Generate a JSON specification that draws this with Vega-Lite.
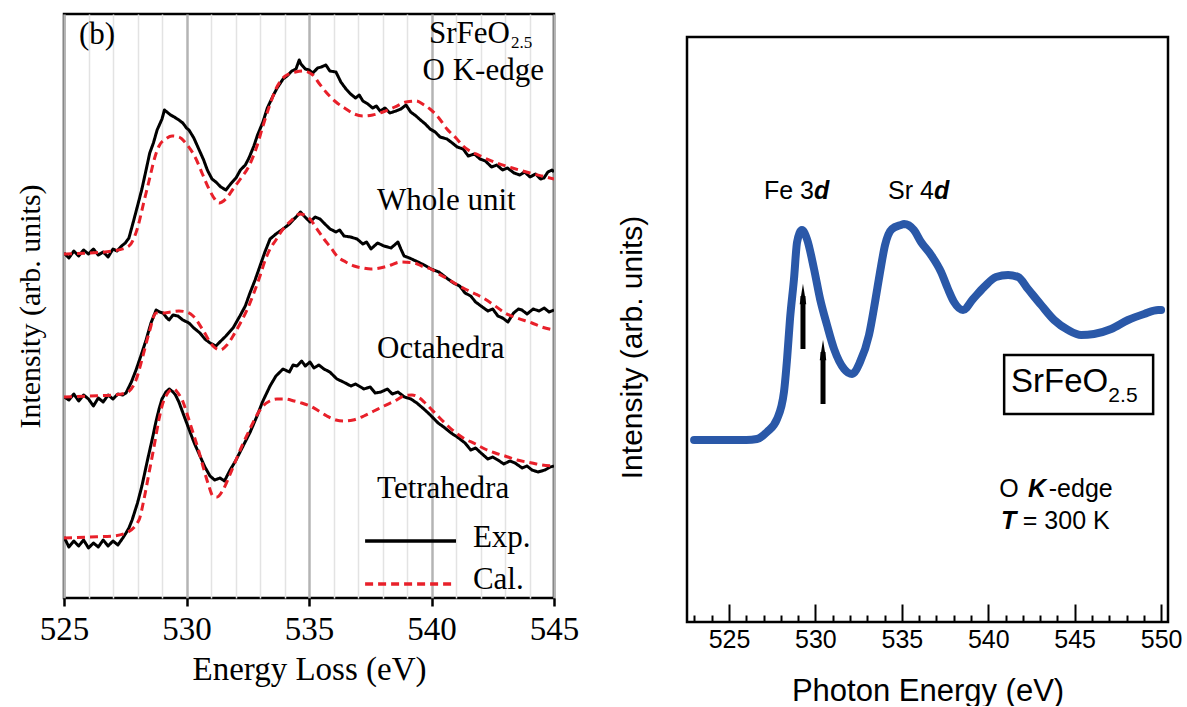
{
  "$schema": "https://vega.github.io/schema/vega-lite/v6.json",
  "background": "white",
  "padding": {"left": 13, "top": 12, "right": 0, "bottom": 0},
  "spacing": 37,
  "config": {
    "view": {"stroke": "#000000", "strokeWidth": 2.5},
    "axis": {"labelColor": "#000000", "titleColor": "#000000", "titleFontWeight": "normal"}
  },
  "datasets": {
    "left": [
      {"curve":"Whole unit","type":"Exp.","energy":525.0,"intensity":345},{"curve":"Whole unit","type":"Exp.","energy":525.2,"intensity":340},{"curve":"Whole unit","type":"Exp.","energy":525.4,"intensity":347},{"curve":"Whole unit","type":"Exp.","energy":525.6,"intensity":342},{"curve":"Whole unit","type":"Exp.","energy":525.8,"intensity":348},{"curve":"Whole unit","type":"Exp.","energy":526.0,"intensity":344},{"curve":"Whole unit","type":"Exp.","energy":526.2,"intensity":349},{"curve":"Whole unit","type":"Exp.","energy":526.4,"intensity":343},{"curve":"Whole unit","type":"Exp.","energy":526.6,"intensity":346},{"curve":"Whole unit","type":"Exp.","energy":526.8,"intensity":341},{"curve":"Whole unit","type":"Exp.","energy":527.0,"intensity":349},{"curve":"Whole unit","type":"Exp.","energy":527.16,"intensity":347},{"curve":"Whole unit","type":"Exp.","energy":527.35,"intensity":352},{"curve":"Whole unit","type":"Exp.","energy":527.5,"intensity":355},{"curve":"Whole unit","type":"Exp.","energy":527.65,"intensity":360},{"curve":"Whole unit","type":"Exp.","energy":527.85,"intensity":378},{"curve":"Whole unit","type":"Exp.","energy":528.0,"intensity":392},{"curve":"Whole unit","type":"Exp.","energy":528.18,"intensity":409},{"curve":"Whole unit","type":"Exp.","energy":528.35,"intensity":428},{"curve":"Whole unit","type":"Exp.","energy":528.5,"intensity":445},{"curve":"Whole unit","type":"Exp.","energy":528.65,"intensity":455},{"curve":"Whole unit","type":"Exp.","energy":528.8,"intensity":468},{"curve":"Whole unit","type":"Exp.","energy":529.0,"intensity":479},{"curve":"Whole unit","type":"Exp.","energy":529.1,"intensity":488},{"curve":"Whole unit","type":"Exp.","energy":529.2,"intensity":486},{"curve":"Whole unit","type":"Exp.","energy":529.35,"intensity":483},{"curve":"Whole unit","type":"Exp.","energy":529.5,"intensity":481},{"curve":"Whole unit","type":"Exp.","energy":529.69,"intensity":478},{"curve":"Whole unit","type":"Exp.","energy":529.85,"intensity":475},{"curve":"Whole unit","type":"Exp.","energy":530.0,"intensity":470},{"curve":"Whole unit","type":"Exp.","energy":530.1,"intensity":468},{"curve":"Whole unit","type":"Exp.","energy":530.3,"intensity":460},{"curve":"Whole unit","type":"Exp.","energy":530.5,"intensity":449},{"curve":"Whole unit","type":"Exp.","energy":530.7,"intensity":438},{"curve":"Whole unit","type":"Exp.","energy":530.85,"intensity":428},{"curve":"Whole unit","type":"Exp.","energy":531.04,"intensity":419},{"curve":"Whole unit","type":"Exp.","energy":531.2,"intensity":416},{"curve":"Whole unit","type":"Exp.","energy":531.4,"intensity":411},{"curve":"Whole unit","type":"Exp.","energy":531.61,"intensity":408},{"curve":"Whole unit","type":"Exp.","energy":531.8,"intensity":414},{"curve":"Whole unit","type":"Exp.","energy":532.02,"intensity":420},{"curve":"Whole unit","type":"Exp.","energy":532.2,"intensity":428},{"curve":"Whole unit","type":"Exp.","energy":532.4,"intensity":433},{"curve":"Whole unit","type":"Exp.","energy":532.55,"intensity":440},{"curve":"Whole unit","type":"Exp.","energy":532.75,"intensity":452},{"curve":"Whole unit","type":"Exp.","energy":532.9,"intensity":463},{"curve":"Whole unit","type":"Exp.","energy":533.12,"intensity":476},{"curve":"Whole unit","type":"Exp.","energy":533.3,"intensity":490},{"curve":"Whole unit","type":"Exp.","energy":533.53,"intensity":502},{"curve":"Whole unit","type":"Exp.","energy":533.7,"intensity":510},{"curve":"Whole unit","type":"Exp.","energy":533.94,"intensity":519},{"curve":"Whole unit","type":"Exp.","energy":534.1,"intensity":522},{"curve":"Whole unit","type":"Exp.","energy":534.3,"intensity":527},{"curve":"Whole unit","type":"Exp.","energy":534.47,"intensity":529},{"curve":"Whole unit","type":"Exp.","energy":534.6,"intensity":538},{"curve":"Whole unit","type":"Exp.","energy":534.67,"intensity":534},{"curve":"Whole unit","type":"Exp.","energy":534.85,"intensity":529},{"curve":"Whole unit","type":"Exp.","energy":535.0,"intensity":528},{"curve":"Whole unit","type":"Exp.","energy":535.16,"intensity":525},{"curve":"Whole unit","type":"Exp.","energy":535.35,"intensity":530},{"curve":"Whole unit","type":"Exp.","energy":535.5,"intensity":531},{"curve":"Whole unit","type":"Exp.","energy":535.69,"intensity":533},{"curve":"Whole unit","type":"Exp.","energy":535.85,"intensity":527},{"curve":"Whole unit","type":"Exp.","energy":536.1,"intensity":526},{"curve":"Whole unit","type":"Exp.","energy":536.3,"intensity":516},{"curve":"Whole unit","type":"Exp.","energy":536.51,"intensity":509},{"curve":"Whole unit","type":"Exp.","energy":536.7,"intensity":504},{"curve":"Whole unit","type":"Exp.","energy":536.9,"intensity":500},{"curve":"Whole unit","type":"Exp.","energy":537.05,"intensity":503},{"curve":"Whole unit","type":"Exp.","energy":537.2,"intensity":497},{"curve":"Whole unit","type":"Exp.","energy":537.4,"intensity":494},{"curve":"Whole unit","type":"Exp.","energy":537.6,"intensity":490},{"curve":"Whole unit","type":"Exp.","energy":537.75,"intensity":492},{"curve":"Whole unit","type":"Exp.","energy":537.9,"intensity":487},{"curve":"Whole unit","type":"Exp.","energy":538.1,"intensity":490},{"curve":"Whole unit","type":"Exp.","energy":538.3,"intensity":485},{"curve":"Whole unit","type":"Exp.","energy":538.55,"intensity":487},{"curve":"Whole unit","type":"Exp.","energy":538.75,"intensity":489},{"curve":"Whole unit","type":"Exp.","energy":538.96,"intensity":493},{"curve":"Whole unit","type":"Exp.","energy":539.15,"intensity":486},{"curve":"Whole unit","type":"Exp.","energy":539.37,"intensity":482},{"curve":"Whole unit","type":"Exp.","energy":539.55,"intensity":478},{"curve":"Whole unit","type":"Exp.","energy":539.75,"intensity":474},{"curve":"Whole unit","type":"Exp.","energy":539.94,"intensity":469},{"curve":"Whole unit","type":"Exp.","energy":540.15,"intensity":466},{"curve":"Whole unit","type":"Exp.","energy":540.35,"intensity":461},{"curve":"Whole unit","type":"Exp.","energy":540.63,"intensity":459},{"curve":"Whole unit","type":"Exp.","energy":540.85,"intensity":455},{"curve":"Whole unit","type":"Exp.","energy":541.05,"intensity":451},{"curve":"Whole unit","type":"Exp.","energy":541.29,"intensity":449},{"curve":"Whole unit","type":"Exp.","energy":541.5,"intensity":442},{"curve":"Whole unit","type":"Exp.","energy":541.75,"intensity":444},{"curve":"Whole unit","type":"Exp.","energy":541.98,"intensity":439},{"curve":"Whole unit","type":"Exp.","energy":542.2,"intensity":437},{"curve":"Whole unit","type":"Exp.","energy":542.45,"intensity":431},{"curve":"Whole unit","type":"Exp.","energy":542.67,"intensity":433},{"curve":"Whole unit","type":"Exp.","energy":542.9,"intensity":428},{"curve":"Whole unit","type":"Exp.","energy":543.1,"intensity":430},{"curve":"Whole unit","type":"Exp.","energy":543.37,"intensity":425},{"curve":"Whole unit","type":"Exp.","energy":543.6,"intensity":423},{"curve":"Whole unit","type":"Exp.","energy":543.8,"intensity":426},{"curve":"Whole unit","type":"Exp.","energy":544.02,"intensity":421},{"curve":"Whole unit","type":"Exp.","energy":544.25,"intensity":424},{"curve":"Whole unit","type":"Exp.","energy":544.45,"intensity":419},{"curve":"Whole unit","type":"Exp.","energy":544.59,"intensity":420},{"curve":"Whole unit","type":"Exp.","energy":544.75,"intensity":426},{"curve":"Whole unit","type":"Exp.","energy":544.92,"intensity":428},{"curve":"Whole unit","type":"Exp.","energy":545.0,"intensity":426},

      {"curve":"Octahedra","type":"Exp.","energy":525.0,"intensity":201},{"curve":"Octahedra","type":"Exp.","energy":525.2,"intensity":198},{"curve":"Octahedra","type":"Exp.","energy":525.4,"intensity":204},{"curve":"Octahedra","type":"Exp.","energy":525.6,"intensity":197},{"curve":"Octahedra","type":"Exp.","energy":525.8,"intensity":203},{"curve":"Octahedra","type":"Exp.","energy":526.0,"intensity":199},{"curve":"Octahedra","type":"Exp.","energy":526.2,"intensity":192},{"curve":"Octahedra","type":"Exp.","energy":526.4,"intensity":200},{"curve":"Octahedra","type":"Exp.","energy":526.6,"intensity":196},{"curve":"Octahedra","type":"Exp.","energy":526.8,"intensity":203},{"curve":"Octahedra","type":"Exp.","energy":527.0,"intensity":199},{"curve":"Octahedra","type":"Exp.","energy":527.2,"intensity":204},{"curve":"Octahedra","type":"Exp.","energy":527.4,"intensity":203},{"curve":"Octahedra","type":"Exp.","energy":527.53,"intensity":205},{"curve":"Octahedra","type":"Exp.","energy":527.75,"intensity":216},{"curve":"Octahedra","type":"Exp.","energy":527.94,"intensity":228},{"curve":"Octahedra","type":"Exp.","energy":528.15,"intensity":243},{"curve":"Octahedra","type":"Exp.","energy":528.35,"intensity":258},{"curve":"Octahedra","type":"Exp.","energy":528.55,"intensity":275},{"curve":"Octahedra","type":"Exp.","energy":528.76,"intensity":288},{"curve":"Octahedra","type":"Exp.","energy":528.9,"intensity":286},{"curve":"Octahedra","type":"Exp.","energy":529.04,"intensity":285},{"curve":"Octahedra","type":"Exp.","energy":529.2,"intensity":280},{"curve":"Octahedra","type":"Exp.","energy":529.29,"intensity":278},{"curve":"Octahedra","type":"Exp.","energy":529.45,"intensity":283},{"curve":"Octahedra","type":"Exp.","energy":529.65,"intensity":282},{"curve":"Octahedra","type":"Exp.","energy":529.85,"intensity":278},{"curve":"Octahedra","type":"Exp.","energy":530.1,"intensity":275},{"curve":"Octahedra","type":"Exp.","energy":530.3,"intensity":270},{"curve":"Octahedra","type":"Exp.","energy":530.55,"intensity":265},{"curve":"Octahedra","type":"Exp.","energy":530.75,"intensity":259},{"curve":"Octahedra","type":"Exp.","energy":530.96,"intensity":255},{"curve":"Octahedra","type":"Exp.","energy":531.2,"intensity":252},{"curve":"Octahedra","type":"Exp.","energy":531.4,"intensity":257},{"curve":"Octahedra","type":"Exp.","energy":531.61,"intensity":262},{"curve":"Octahedra","type":"Exp.","energy":531.9,"intensity":270},{"curve":"Octahedra","type":"Exp.","energy":532.18,"intensity":282},{"curve":"Octahedra","type":"Exp.","energy":532.4,"intensity":292},{"curve":"Octahedra","type":"Exp.","energy":532.59,"intensity":305},{"curve":"Octahedra","type":"Exp.","energy":532.8,"intensity":318},{"curve":"Octahedra","type":"Exp.","energy":533.0,"intensity":332},{"curve":"Octahedra","type":"Exp.","energy":533.2,"intensity":346},{"curve":"Octahedra","type":"Exp.","energy":533.41,"intensity":359},{"curve":"Octahedra","type":"Exp.","energy":533.65,"intensity":364},{"curve":"Octahedra","type":"Exp.","energy":533.94,"intensity":369},{"curve":"Octahedra","type":"Exp.","energy":534.2,"intensity":374},{"curve":"Octahedra","type":"Exp.","energy":534.51,"intensity":382},{"curve":"Octahedra","type":"Exp.","energy":534.65,"intensity":386},{"curve":"Octahedra","type":"Exp.","energy":534.8,"intensity":382},{"curve":"Octahedra","type":"Exp.","energy":535.04,"intensity":376},{"curve":"Octahedra","type":"Exp.","energy":535.25,"intensity":381},{"curve":"Octahedra","type":"Exp.","energy":535.45,"intensity":379},{"curve":"Octahedra","type":"Exp.","energy":535.65,"intensity":374},{"curve":"Octahedra","type":"Exp.","energy":535.86,"intensity":369},{"curve":"Octahedra","type":"Exp.","energy":536.1,"intensity":366},{"curve":"Octahedra","type":"Exp.","energy":536.25,"intensity":368},{"curve":"Octahedra","type":"Exp.","energy":536.43,"intensity":362},{"curve":"Octahedra","type":"Exp.","energy":536.7,"intensity":361},{"curve":"Octahedra","type":"Exp.","energy":536.96,"intensity":359},{"curve":"Octahedra","type":"Exp.","energy":537.2,"intensity":354},{"curve":"Octahedra","type":"Exp.","energy":537.35,"intensity":356},{"curve":"Octahedra","type":"Exp.","energy":537.53,"intensity":349},{"curve":"Octahedra","type":"Exp.","energy":537.8,"intensity":355},{"curve":"Octahedra","type":"Exp.","energy":538.06,"intensity":352},{"curve":"Octahedra","type":"Exp.","energy":538.35,"intensity":350},{"curve":"Octahedra","type":"Exp.","energy":538.63,"intensity":356},{"curve":"Octahedra","type":"Exp.","energy":538.75,"intensity":349},{"curve":"Octahedra","type":"Exp.","energy":538.88,"intensity":342},{"curve":"Octahedra","type":"Exp.","energy":539.1,"intensity":340},{"curve":"Octahedra","type":"Exp.","energy":539.45,"intensity":336},{"curve":"Octahedra","type":"Exp.","energy":539.7,"intensity":333},{"curve":"Octahedra","type":"Exp.","energy":539.98,"intensity":329},{"curve":"Octahedra","type":"Exp.","energy":540.3,"intensity":326},{"curve":"Octahedra","type":"Exp.","energy":540.67,"intensity":319},{"curve":"Octahedra","type":"Exp.","energy":540.9,"intensity":315},{"curve":"Octahedra","type":"Exp.","energy":541.15,"intensity":312},{"curve":"Octahedra","type":"Exp.","energy":541.37,"intensity":305},{"curve":"Octahedra","type":"Exp.","energy":541.6,"intensity":302},{"curve":"Octahedra","type":"Exp.","energy":541.8,"intensity":296},{"curve":"Octahedra","type":"Exp.","energy":542.02,"intensity":292},{"curve":"Octahedra","type":"Exp.","energy":542.3,"intensity":287},{"curve":"Octahedra","type":"Exp.","energy":542.5,"intensity":289},{"curve":"Octahedra","type":"Exp.","energy":542.71,"intensity":282},{"curve":"Octahedra","type":"Exp.","energy":542.9,"intensity":280},{"curve":"Octahedra","type":"Exp.","energy":543.12,"intensity":276},{"curve":"Octahedra","type":"Exp.","energy":543.35,"intensity":285},{"curve":"Octahedra","type":"Exp.","energy":543.55,"intensity":289},{"curve":"Octahedra","type":"Exp.","energy":543.69,"intensity":288},{"curve":"Octahedra","type":"Exp.","energy":543.9,"intensity":284},{"curve":"Octahedra","type":"Exp.","energy":544.15,"intensity":289},{"curve":"Octahedra","type":"Exp.","energy":544.39,"intensity":287},{"curve":"Octahedra","type":"Exp.","energy":544.6,"intensity":290},{"curve":"Octahedra","type":"Exp.","energy":544.8,"intensity":286},{"curve":"Octahedra","type":"Exp.","energy":545.0,"intensity":288},

      {"curve":"Tetrahedra","type":"Exp.","energy":525.0,"intensity":61},{"curve":"Tetrahedra","type":"Exp.","energy":525.2,"intensity":51},{"curve":"Tetrahedra","type":"Exp.","energy":525.4,"intensity":57},{"curve":"Tetrahedra","type":"Exp.","energy":525.6,"intensity":52},{"curve":"Tetrahedra","type":"Exp.","energy":525.8,"intensity":58},{"curve":"Tetrahedra","type":"Exp.","energy":526.0,"intensity":50},{"curve":"Tetrahedra","type":"Exp.","energy":526.2,"intensity":55},{"curve":"Tetrahedra","type":"Exp.","energy":526.4,"intensity":51},{"curve":"Tetrahedra","type":"Exp.","energy":526.6,"intensity":58},{"curve":"Tetrahedra","type":"Exp.","energy":526.8,"intensity":52},{"curve":"Tetrahedra","type":"Exp.","energy":527.0,"intensity":57},{"curve":"Tetrahedra","type":"Exp.","energy":527.2,"intensity":53},{"curve":"Tetrahedra","type":"Exp.","energy":527.4,"intensity":60},{"curve":"Tetrahedra","type":"Exp.","energy":527.53,"intensity":65},{"curve":"Tetrahedra","type":"Exp.","energy":527.65,"intensity":70},{"curve":"Tetrahedra","type":"Exp.","energy":527.78,"intensity":78},{"curve":"Tetrahedra","type":"Exp.","energy":528.0,"intensity":95},{"curve":"Tetrahedra","type":"Exp.","energy":528.18,"intensity":112},{"curve":"Tetrahedra","type":"Exp.","energy":528.4,"intensity":137},{"curve":"Tetrahedra","type":"Exp.","energy":528.63,"intensity":162},{"curve":"Tetrahedra","type":"Exp.","energy":528.75,"intensity":176},{"curve":"Tetrahedra","type":"Exp.","energy":528.88,"intensity":189},{"curve":"Tetrahedra","type":"Exp.","energy":529.0,"intensity":199},{"curve":"Tetrahedra","type":"Exp.","energy":529.16,"intensity":206},{"curve":"Tetrahedra","type":"Exp.","energy":529.3,"intensity":209},{"curve":"Tetrahedra","type":"Exp.","energy":529.45,"intensity":206},{"curve":"Tetrahedra","type":"Exp.","energy":529.55,"intensity":203},{"curve":"Tetrahedra","type":"Exp.","energy":529.69,"intensity":196},{"curve":"Tetrahedra","type":"Exp.","energy":529.9,"intensity":182},{"curve":"Tetrahedra","type":"Exp.","energy":530.1,"intensity":169},{"curve":"Tetrahedra","type":"Exp.","energy":530.3,"intensity":156},{"curve":"Tetrahedra","type":"Exp.","energy":530.55,"intensity":142},{"curve":"Tetrahedra","type":"Exp.","energy":530.75,"intensity":131},{"curve":"Tetrahedra","type":"Exp.","energy":530.96,"intensity":122},{"curve":"Tetrahedra","type":"Exp.","energy":531.15,"intensity":118},{"curve":"Tetrahedra","type":"Exp.","energy":531.37,"intensity":120},{"curve":"Tetrahedra","type":"Exp.","energy":531.55,"intensity":117},{"curve":"Tetrahedra","type":"Exp.","energy":531.78,"intensity":128},{"curve":"Tetrahedra","type":"Exp.","energy":532.0,"intensity":137},{"curve":"Tetrahedra","type":"Exp.","energy":532.31,"intensity":152},{"curve":"Tetrahedra","type":"Exp.","energy":532.6,"intensity":166},{"curve":"Tetrahedra","type":"Exp.","energy":532.88,"intensity":182},{"curve":"Tetrahedra","type":"Exp.","energy":533.1,"intensity":196},{"curve":"Tetrahedra","type":"Exp.","energy":533.41,"intensity":212},{"curve":"Tetrahedra","type":"Exp.","energy":533.65,"intensity":222},{"curve":"Tetrahedra","type":"Exp.","energy":533.94,"intensity":229},{"curve":"Tetrahedra","type":"Exp.","energy":534.2,"intensity":226},{"curve":"Tetrahedra","type":"Exp.","energy":534.35,"intensity":233},{"curve":"Tetrahedra","type":"Exp.","energy":534.51,"intensity":232},{"curve":"Tetrahedra","type":"Exp.","energy":534.7,"intensity":237},{"curve":"Tetrahedra","type":"Exp.","energy":534.85,"intensity":232},{"curve":"Tetrahedra","type":"Exp.","energy":535.04,"intensity":236},{"curve":"Tetrahedra","type":"Exp.","energy":535.2,"intensity":230},{"curve":"Tetrahedra","type":"Exp.","energy":535.4,"intensity":233},{"curve":"Tetrahedra","type":"Exp.","energy":535.61,"intensity":229},{"curve":"Tetrahedra","type":"Exp.","energy":535.85,"intensity":226},{"curve":"Tetrahedra","type":"Exp.","energy":536.14,"intensity":219},{"curve":"Tetrahedra","type":"Exp.","energy":536.4,"intensity":216},{"curve":"Tetrahedra","type":"Exp.","energy":536.71,"intensity":212},{"curve":"Tetrahedra","type":"Exp.","energy":536.9,"intensity":214},{"curve":"Tetrahedra","type":"Exp.","energy":537.24,"intensity":209},{"curve":"Tetrahedra","type":"Exp.","energy":537.5,"intensity":211},{"curve":"Tetrahedra","type":"Exp.","energy":537.7,"intensity":205},{"curve":"Tetrahedra","type":"Exp.","energy":537.94,"intensity":206},{"curve":"Tetrahedra","type":"Exp.","energy":538.2,"intensity":209},{"curve":"Tetrahedra","type":"Exp.","energy":538.4,"intensity":204},{"curve":"Tetrahedra","type":"Exp.","energy":538.63,"intensity":206},{"curve":"Tetrahedra","type":"Exp.","energy":538.9,"intensity":201},{"curve":"Tetrahedra","type":"Exp.","energy":539.16,"intensity":199},{"curve":"Tetrahedra","type":"Exp.","energy":539.4,"intensity":195},{"curve":"Tetrahedra","type":"Exp.","energy":539.69,"intensity":189},{"curve":"Tetrahedra","type":"Exp.","energy":539.95,"intensity":183},{"curve":"Tetrahedra","type":"Exp.","energy":540.27,"intensity":175},{"curve":"Tetrahedra","type":"Exp.","energy":540.5,"intensity":171},{"curve":"Tetrahedra","type":"Exp.","energy":540.8,"intensity":165},{"curve":"Tetrahedra","type":"Exp.","energy":541.05,"intensity":161},{"curve":"Tetrahedra","type":"Exp.","energy":541.37,"intensity":155},{"curve":"Tetrahedra","type":"Exp.","energy":541.6,"intensity":148},{"curve":"Tetrahedra","type":"Exp.","energy":541.8,"intensity":150},{"curve":"Tetrahedra","type":"Exp.","energy":542.02,"intensity":145},{"curve":"Tetrahedra","type":"Exp.","energy":542.3,"intensity":139},{"curve":"Tetrahedra","type":"Exp.","energy":542.5,"intensity":141},{"curve":"Tetrahedra","type":"Exp.","energy":542.71,"intensity":138},{"curve":"Tetrahedra","type":"Exp.","energy":542.95,"intensity":134},{"curve":"Tetrahedra","type":"Exp.","energy":543.2,"intensity":137},{"curve":"Tetrahedra","type":"Exp.","energy":543.41,"intensity":135},{"curve":"Tetrahedra","type":"Exp.","energy":543.7,"intensity":130},{"curve":"Tetrahedra","type":"Exp.","energy":543.9,"intensity":132},{"curve":"Tetrahedra","type":"Exp.","energy":544.1,"intensity":128},{"curve":"Tetrahedra","type":"Exp.","energy":544.35,"intensity":126},{"curve":"Tetrahedra","type":"Exp.","energy":544.63,"intensity":128},{"curve":"Tetrahedra","type":"Exp.","energy":544.85,"intensity":131},{"curve":"Tetrahedra","type":"Exp.","energy":545.0,"intensity":132},

      {"curve":"Whole unit","type":"Cal.","energy":525.0,"intensity":344},{"curve":"Whole unit","type":"Cal.","energy":526.0,"intensity":345},{"curve":"Whole unit","type":"Cal.","energy":527.0,"intensity":347},{"curve":"Whole unit","type":"Cal.","energy":527.65,"intensity":352},{"curve":"Whole unit","type":"Cal.","energy":528.0,"intensity":370},{"curve":"Whole unit","type":"Cal.","energy":528.25,"intensity":395},{"curve":"Whole unit","type":"Cal.","energy":528.47,"intensity":417},{"curve":"Whole unit","type":"Cal.","energy":528.7,"intensity":440},{"curve":"Whole unit","type":"Cal.","energy":528.88,"intensity":452},{"curve":"Whole unit","type":"Cal.","energy":529.15,"intensity":459},{"curve":"Whole unit","type":"Cal.","energy":529.41,"intensity":462},{"curve":"Whole unit","type":"Cal.","energy":529.69,"intensity":461},{"curve":"Whole unit","type":"Cal.","energy":530.0,"intensity":454},{"curve":"Whole unit","type":"Cal.","energy":530.39,"intensity":439},{"curve":"Whole unit","type":"Cal.","energy":530.65,"intensity":424},{"curve":"Whole unit","type":"Cal.","energy":530.92,"intensity":409},{"curve":"Whole unit","type":"Cal.","energy":531.15,"intensity":399},{"curve":"Whole unit","type":"Cal.","energy":531.33,"intensity":395},{"curve":"Whole unit","type":"Cal.","energy":531.6,"intensity":399},{"curve":"Whole unit","type":"Cal.","energy":531.9,"intensity":409},{"curve":"Whole unit","type":"Cal.","energy":532.2,"intensity":419},{"curve":"Whole unit","type":"Cal.","energy":532.55,"intensity":432},{"curve":"Whole unit","type":"Cal.","energy":532.85,"intensity":450},{"curve":"Whole unit","type":"Cal.","energy":533.12,"intensity":472},{"curve":"Whole unit","type":"Cal.","energy":533.4,"intensity":493},{"curve":"Whole unit","type":"Cal.","energy":533.65,"intensity":509},{"curve":"Whole unit","type":"Cal.","energy":533.9,"intensity":519},{"curve":"Whole unit","type":"Cal.","energy":534.18,"intensity":524},{"curve":"Whole unit","type":"Cal.","energy":534.45,"intensity":526},{"curve":"Whole unit","type":"Cal.","energy":534.76,"intensity":527},{"curve":"Whole unit","type":"Cal.","energy":535.16,"intensity":523},{"curve":"Whole unit","type":"Cal.","energy":535.4,"intensity":515},{"curve":"Whole unit","type":"Cal.","energy":535.69,"intensity":506},{"curve":"Whole unit","type":"Cal.","energy":536.1,"intensity":496},{"curve":"Whole unit","type":"Cal.","energy":536.51,"intensity":489},{"curve":"Whole unit","type":"Cal.","energy":536.85,"intensity":484},{"curve":"Whole unit","type":"Cal.","energy":537.2,"intensity":482},{"curve":"Whole unit","type":"Cal.","energy":537.6,"intensity":483},{"curve":"Whole unit","type":"Cal.","energy":538.02,"intensity":486},{"curve":"Whole unit","type":"Cal.","energy":538.5,"intensity":491},{"curve":"Whole unit","type":"Cal.","energy":538.96,"intensity":496},{"curve":"Whole unit","type":"Cal.","energy":539.37,"intensity":497},{"curve":"Whole unit","type":"Cal.","energy":539.7,"intensity":493},{"curve":"Whole unit","type":"Cal.","energy":539.94,"intensity":489},{"curve":"Whole unit","type":"Cal.","energy":540.3,"intensity":480},{"curve":"Whole unit","type":"Cal.","energy":540.63,"intensity":469},{"curve":"Whole unit","type":"Cal.","energy":541.0,"intensity":460},{"curve":"Whole unit","type":"Cal.","energy":541.29,"intensity":452},{"curve":"Whole unit","type":"Cal.","energy":542.0,"intensity":442},{"curve":"Whole unit","type":"Cal.","energy":542.67,"intensity":435},{"curve":"Whole unit","type":"Cal.","energy":543.3,"intensity":430},{"curve":"Whole unit","type":"Cal.","energy":544.02,"intensity":425},{"curve":"Whole unit","type":"Cal.","energy":544.5,"intensity":422},{"curve":"Whole unit","type":"Cal.","energy":545.0,"intensity":419},

      {"curve":"Octahedra","type":"Cal.","energy":525.0,"intensity":201},{"curve":"Octahedra","type":"Cal.","energy":526.0,"intensity":202},{"curve":"Octahedra","type":"Cal.","energy":527.0,"intensity":203},{"curve":"Octahedra","type":"Cal.","energy":527.53,"intensity":205},{"curve":"Octahedra","type":"Cal.","energy":527.94,"intensity":218},{"curve":"Octahedra","type":"Cal.","energy":528.2,"intensity":240},{"curve":"Octahedra","type":"Cal.","energy":528.47,"intensity":265},{"curve":"Octahedra","type":"Cal.","energy":528.76,"intensity":285},{"curve":"Octahedra","type":"Cal.","energy":529.0,"intensity":285},{"curve":"Octahedra","type":"Cal.","energy":529.35,"intensity":286},{"curve":"Octahedra","type":"Cal.","energy":529.69,"intensity":287},{"curve":"Octahedra","type":"Cal.","energy":530.0,"intensity":286},{"curve":"Octahedra","type":"Cal.","energy":530.27,"intensity":282},{"curve":"Octahedra","type":"Cal.","energy":530.67,"intensity":268},{"curve":"Octahedra","type":"Cal.","energy":531.08,"intensity":252},{"curve":"Octahedra","type":"Cal.","energy":531.37,"intensity":248},{"curve":"Octahedra","type":"Cal.","energy":531.65,"intensity":253},{"curve":"Octahedra","type":"Cal.","energy":531.9,"intensity":262},{"curve":"Octahedra","type":"Cal.","energy":532.2,"intensity":275},{"curve":"Octahedra","type":"Cal.","energy":532.47,"intensity":288},{"curve":"Octahedra","type":"Cal.","energy":532.75,"intensity":305},{"curve":"Octahedra","type":"Cal.","energy":533.0,"intensity":322},{"curve":"Octahedra","type":"Cal.","energy":533.2,"intensity":337},{"curve":"Octahedra","type":"Cal.","energy":533.41,"intensity":349},{"curve":"Octahedra","type":"Cal.","energy":533.65,"intensity":358},{"curve":"Octahedra","type":"Cal.","energy":533.94,"intensity":369},{"curve":"Octahedra","type":"Cal.","energy":534.3,"intensity":378},{"curve":"Octahedra","type":"Cal.","energy":534.63,"intensity":384},{"curve":"Octahedra","type":"Cal.","energy":535.04,"intensity":379},{"curve":"Octahedra","type":"Cal.","energy":535.3,"intensity":370},{"curve":"Octahedra","type":"Cal.","energy":535.61,"intensity":359},{"curve":"Octahedra","type":"Cal.","energy":535.9,"intensity":350},{"curve":"Octahedra","type":"Cal.","energy":536.14,"intensity":342},{"curve":"Octahedra","type":"Cal.","energy":536.5,"intensity":336},{"curve":"Octahedra","type":"Cal.","energy":536.84,"intensity":332},{"curve":"Octahedra","type":"Cal.","energy":537.2,"intensity":330},{"curve":"Octahedra","type":"Cal.","energy":537.53,"intensity":329},{"curve":"Octahedra","type":"Cal.","energy":537.9,"intensity":330},{"curve":"Octahedra","type":"Cal.","energy":538.22,"intensity":332},{"curve":"Octahedra","type":"Cal.","energy":538.76,"intensity":336},{"curve":"Octahedra","type":"Cal.","energy":539.29,"intensity":335},{"curve":"Octahedra","type":"Cal.","energy":539.6,"intensity":332},{"curve":"Octahedra","type":"Cal.","energy":539.98,"intensity":329},{"curve":"Octahedra","type":"Cal.","energy":540.3,"intensity":324},{"curve":"Octahedra","type":"Cal.","energy":540.67,"intensity":319},{"curve":"Octahedra","type":"Cal.","energy":541.0,"intensity":314},{"curve":"Octahedra","type":"Cal.","energy":541.37,"intensity":309},{"curve":"Octahedra","type":"Cal.","energy":541.8,"intensity":304},{"curve":"Octahedra","type":"Cal.","energy":542.18,"intensity":299},{"curve":"Octahedra","type":"Cal.","energy":542.6,"intensity":292},{"curve":"Octahedra","type":"Cal.","energy":543.0,"intensity":285},{"curve":"Octahedra","type":"Cal.","energy":543.5,"intensity":280},{"curve":"Octahedra","type":"Cal.","energy":544.1,"intensity":275},{"curve":"Octahedra","type":"Cal.","energy":544.5,"intensity":271},{"curve":"Octahedra","type":"Cal.","energy":545.0,"intensity":268},

      {"curve":"Tetrahedra","type":"Cal.","energy":525.0,"intensity":60},{"curve":"Tetrahedra","type":"Cal.","energy":526.0,"intensity":61},{"curve":"Tetrahedra","type":"Cal.","energy":527.0,"intensity":62},{"curve":"Tetrahedra","type":"Cal.","energy":527.53,"intensity":65},{"curve":"Tetrahedra","type":"Cal.","energy":528.06,"intensity":78},{"curve":"Tetrahedra","type":"Cal.","energy":528.25,"intensity":97},{"curve":"Tetrahedra","type":"Cal.","energy":528.47,"intensity":125},{"curve":"Tetrahedra","type":"Cal.","energy":528.68,"intensity":152},{"curve":"Tetrahedra","type":"Cal.","energy":528.88,"intensity":179},{"curve":"Tetrahedra","type":"Cal.","energy":529.0,"intensity":192},{"curve":"Tetrahedra","type":"Cal.","energy":529.16,"intensity":202},{"curve":"Tetrahedra","type":"Cal.","energy":529.35,"intensity":208},{"curve":"Tetrahedra","type":"Cal.","energy":529.49,"intensity":209},{"curve":"Tetrahedra","type":"Cal.","energy":529.65,"intensity":205},{"curve":"Tetrahedra","type":"Cal.","energy":529.86,"intensity":196},{"curve":"Tetrahedra","type":"Cal.","energy":530.05,"intensity":182},{"curve":"Tetrahedra","type":"Cal.","energy":530.27,"intensity":165},{"curve":"Tetrahedra","type":"Cal.","energy":530.5,"intensity":147},{"curve":"Tetrahedra","type":"Cal.","energy":530.67,"intensity":132},{"curve":"Tetrahedra","type":"Cal.","energy":530.9,"intensity":113},{"curve":"Tetrahedra","type":"Cal.","energy":531.08,"intensity":102},{"curve":"Tetrahedra","type":"Cal.","energy":531.25,"intensity":101},{"curve":"Tetrahedra","type":"Cal.","energy":531.49,"intensity":108},{"curve":"Tetrahedra","type":"Cal.","energy":531.75,"intensity":122},{"curve":"Tetrahedra","type":"Cal.","energy":532.02,"intensity":138},{"curve":"Tetrahedra","type":"Cal.","energy":532.3,"intensity":154},{"curve":"Tetrahedra","type":"Cal.","energy":532.59,"intensity":169},{"curve":"Tetrahedra","type":"Cal.","energy":532.85,"intensity":182},{"curve":"Tetrahedra","type":"Cal.","energy":533.12,"intensity":192},{"curve":"Tetrahedra","type":"Cal.","energy":533.4,"intensity":197},{"curve":"Tetrahedra","type":"Cal.","energy":533.69,"intensity":199},{"curve":"Tetrahedra","type":"Cal.","energy":534.0,"intensity":199},{"curve":"Tetrahedra","type":"Cal.","energy":534.39,"intensity":197},{"curve":"Tetrahedra","type":"Cal.","energy":534.7,"intensity":195},{"curve":"Tetrahedra","type":"Cal.","energy":535.04,"intensity":192},{"curve":"Tetrahedra","type":"Cal.","energy":535.4,"intensity":187},{"curve":"Tetrahedra","type":"Cal.","energy":535.73,"intensity":182},{"curve":"Tetrahedra","type":"Cal.","energy":536.1,"intensity":178},{"curve":"Tetrahedra","type":"Cal.","energy":536.43,"intensity":177},{"curve":"Tetrahedra","type":"Cal.","energy":536.8,"intensity":178},{"curve":"Tetrahedra","type":"Cal.","energy":537.24,"intensity":182},{"curve":"Tetrahedra","type":"Cal.","energy":537.65,"intensity":187},{"curve":"Tetrahedra","type":"Cal.","energy":538.06,"intensity":192},{"curve":"Tetrahedra","type":"Cal.","energy":538.5,"intensity":197},{"curve":"Tetrahedra","type":"Cal.","energy":538.88,"intensity":202},{"curve":"Tetrahedra","type":"Cal.","energy":539.2,"intensity":203},{"curve":"Tetrahedra","type":"Cal.","energy":539.45,"intensity":201},{"curve":"Tetrahedra","type":"Cal.","energy":539.7,"intensity":196},{"curve":"Tetrahedra","type":"Cal.","energy":539.98,"intensity":189},{"curve":"Tetrahedra","type":"Cal.","energy":540.3,"intensity":181},{"curve":"Tetrahedra","type":"Cal.","energy":540.67,"intensity":172},{"curve":"Tetrahedra","type":"Cal.","energy":541.0,"intensity":165},{"curve":"Tetrahedra","type":"Cal.","energy":541.37,"intensity":159},{"curve":"Tetrahedra","type":"Cal.","energy":541.8,"intensity":154},{"curve":"Tetrahedra","type":"Cal.","energy":542.18,"intensity":149},{"curve":"Tetrahedra","type":"Cal.","energy":542.6,"intensity":145},{"curve":"Tetrahedra","type":"Cal.","energy":543.0,"intensity":142},{"curve":"Tetrahedra","type":"Cal.","energy":543.5,"intensity":138},{"curve":"Tetrahedra","type":"Cal.","energy":544.1,"intensity":135},{"curve":"Tetrahedra","type":"Cal.","energy":544.5,"intensity":133},{"curve":"Tetrahedra","type":"Cal.","energy":545.0,"intensity":132}
    ],
    "right": [
      {"energy":522.98,"intensity":182},{"energy":524.0,"intensity":182},{"energy":525.0,"intensity":182},{"energy":526.0,"intensity":182},{"energy":526.62,"intensity":183},{"energy":527.2,"intensity":190},{"energy":527.78,"intensity":203},{"energy":528.18,"intensity":230},{"energy":528.36,"intensity":263},{"energy":528.53,"intensity":303},{"energy":528.76,"intensity":343},{"energy":528.94,"intensity":380},{"energy":529.22,"intensity":392},{"energy":529.51,"intensity":383},{"energy":529.92,"intensity":353},{"energy":530.27,"intensity":323},{"energy":530.67,"intensity":297},{"energy":531.08,"intensity":273},{"energy":531.66,"intensity":253},{"energy":532.12,"intensity":248},{"energy":532.58,"intensity":260},{"energy":533.1,"intensity":287},{"energy":533.45,"intensity":320},{"energy":533.74,"intensity":350},{"energy":534.03,"intensity":377},{"energy":534.43,"intensity":393},{"energy":534.95,"intensity":397},{"energy":535.13,"intensity":398},{"energy":535.7,"intensity":392},{"energy":536.11,"intensity":380},{"energy":536.69,"intensity":367},{"energy":537.27,"intensity":350},{"energy":537.67,"intensity":333},{"energy":538.02,"intensity":320},{"energy":538.54,"intensity":312},{"energy":539.12,"intensity":323},{"energy":539.76,"intensity":335},{"energy":540.45,"intensity":345},{"energy":541.15,"intensity":347},{"energy":541.73,"intensity":345},{"energy":542.3,"intensity":333},{"energy":543.06,"intensity":317},{"energy":543.81,"intensity":302},{"energy":544.62,"intensity":292},{"energy":545.37,"intensity":287},{"energy":546.12,"intensity":288},{"energy":547.11,"intensity":293},{"energy":548.09,"intensity":302},{"energy":549.02,"intensity":308},{"energy":549.83,"intensity":312},{"energy":550.0,"intensity":312}
    ]
  },
  "hconcat": [
    {
      "width": 490,
      "height": 584,
      "layer": [
        {
          "data": {"name": "left"},
          "transform": [{"filter": "datum.type === 'Exp.'"}],
          "mark": {"type": "line", "clip": true, "strokeWidth": 3, "strokeJoin": "round"},
          "encoding": {
            "x": {"field": "energy", "type": "quantitative",
              "scale": {"domain": [525, 545], "nice": false, "zero": false},
              "axis": {
                "values": [525,526,527,528,529,530,531,532,533,534,535,536,537,538,539,540,541,542,543,544,545],
                "tickCount": 200,
                "format": "d",
                "labelExpr": "datum.value % 5 === 0 ? datum.label : ''",
                "labelOverlap": false, "labelFlush": false,
                "grid": true,
                "gridColor": {"condition": {"test": "datum.value % 5 === 0", "value": "#b4b4b4"}, "value": "#e3e3e3"},
                "gridWidth": {"condition": {"test": "datum.value % 5 === 0", "value": 2.5}, "value": 1.5},
                "tickOpacity": {"condition": {"test": "datum.value % 5 === 0", "value": 1}, "value": 0},
                "tickSize": 8, "tickWidth": 2.5, "tickColor": "#000000",
                "domain": false,
                "labelFont": "Liberation Serif", "labelFontSize": 33, "labelPadding": 7,
                "title": "Energy Loss (eV)", "titleFont": "Liberation Serif", "titleFontSize": 33, "titlePadding": 7
              }},
            "y": {"field": "intensity", "type": "quantitative",
              "scale": {"domain": [0, 584], "nice": false, "zero": false},
              "axis": {"title": "Intensity (arb. units)", "ticks": false, "labels": false, "domain": false, "grid": false,
                "minExtent": 0, "titleFont": "Liberation Serif", "titleFontSize": 30, "titlePadding": 19}},
            "detail": {"field": "curve"},
            "color": {"field": "type", "type": "nominal", "scale": {"domain": ["Exp.", "Cal."], "range": ["#000000", "#e8202a"]}, "legend": null},
            "strokeDash": {"field": "type", "type": "nominal", "scale": {"domain": ["Exp.", "Cal."], "range": [[1, 0], [8, 5]]}, "legend": null}
          }
        },
        {
          "data": {"name": "left"},
          "transform": [{"filter": "datum.type === 'Cal.'"}],
          "mark": {"type": "line", "clip": true, "strokeWidth": 3, "interpolate": "monotone"},
          "encoding": {
            "x": {"field": "energy", "type": "quantitative"},
            "y": {"field": "intensity", "type": "quantitative"},
            "detail": {"field": "curve"},
            "color": {"field": "type", "type": "nominal", "legend": null},
            "strokeDash": {"field": "type", "type": "nominal", "legend": null}
          }
        },
        {
          "data": {"values": [
            {"type": "Exp.", "start": 537.29, "end": 541.0, "level": 57},
            {"type": "Cal.", "start": 537.29, "end": 541.0, "level": 14}
          ]},
          "mark": {"type": "rule", "strokeWidth": 3.5},
          "encoding": {
            "x": {"field": "start", "type": "quantitative"},
            "x2": {"field": "end"},
            "y": {"field": "level", "type": "quantitative"},
            "color": {"field": "type", "type": "nominal", "legend": null},
            "strokeDash": {"field": "type", "type": "nominal", "legend": null}
          }
        },
        {
          "data": {"values": [
            {"label": "(b)", "energy": 525.61, "intensity": 554},
            {"label": "Whole unit", "energy": 537.78, "intensity": 388},
            {"label": "Octahedra", "energy": 537.78, "intensity": 240},
            {"label": "Tetrahedra", "energy": 537.78, "intensity": 100},
            {"label": "Exp.", "energy": 541.69, "intensity": 51},
            {"label": "Cal.", "energy": 541.69, "intensity": 9}
          ]},
          "mark": {"type": "text", "align": "left", "baseline": "alphabetic", "font": "Liberation Serif", "fontSize": 31, "color": "#000000"},
          "encoding": {
            "x": {"field": "energy", "type": "quantitative"},
            "y": {"field": "intensity", "type": "quantitative"},
            "text": {"field": "label"}
          }
        },
        {
          "data": {"values": [
            {"label": "SrFeO", "energy": 543.2, "intensity": 555},
            {"label": "O K-edge", "energy": 544.59, "intensity": 518}
          ]},
          "mark": {"type": "text", "align": "right", "baseline": "alphabetic", "font": "Liberation Serif", "fontSize": 31, "color": "#000000"},
          "encoding": {
            "x": {"field": "energy", "type": "quantitative"},
            "y": {"field": "intensity", "type": "quantitative"},
            "text": {"field": "label"}
          }
        },
        {
          "data": {"values": [{"label": "2.5", "energy": 543.24, "intensity": 550}]},
          "mark": {"type": "text", "align": "left", "baseline": "alphabetic", "font": "Liberation Serif", "fontSize": 17, "color": "#000000"},
          "encoding": {
            "x": {"field": "energy", "type": "quantitative"},
            "y": {"field": "intensity", "type": "quantitative"},
            "text": {"field": "label"}
          }
        }
      ]
    },
    {
      "width": 481,
      "height": 608,
      "view": {"stroke": null},
      "layer": [
        {
          "data": {"values": [{"low": 522.57, "high": 550.4, "bottom": 0, "top": 585}]},
          "mark": {"type": "rect", "fill": "transparent", "stroke": "#000000", "strokeWidth": 2.5},
          "encoding": {
            "x": {"field": "low", "type": "quantitative",
              "scale": {"domain": [522.57, 550.4], "nice": false, "zero": false},
              "axis": {
                "values": [523,524,525,526,527,528,529,530,531,532,533,534,535,536,537,538,539,540,541,542,543,544,545,546,547,548,549,550],
                "tickCount": 200,
                "format": "d",
                "labelExpr": "datum.value % 5 === 0 ? datum.label : ''",
                "labelOverlap": false, "labelFlush": false,
                "grid": false, "domain": false,
                "tickSize": {"condition": {"test": "datum.value % 5 === 0", "value": -18}, "value": -7},
                "tickWidth": 2, "tickColor": "#000000",
                "labelFont": "Liberation Sans", "labelFontSize": 25, "labelPadding": 23,
                "title": "Photon Energy (eV)", "titleFont": "Liberation Sans", "titleFontSize": 31, "titlePadding": 13
              }},
            "x2": {"field": "high"},
            "y": {"field": "bottom", "type": "quantitative",
              "scale": {"domain": [0, 608], "nice": false, "zero": false},
              "axis": {"title": "Intensity (arb. units)", "ticks": false, "labels": false, "domain": false, "grid": false,
                "minExtent": 0, "titleFont": "Liberation Sans", "titleFontSize": 30, "titlePadding": 40, "titleY": 333}},
            "y2": {"field": "top"}
          }
        },
        {
          "data": {"name": "right"},
          "mark": {"type": "line", "clip": true, "color": "#2a58a8", "strokeWidth": 8, "strokeCap": "round", "strokeJoin": "round", "interpolate": "monotone"},
          "encoding": {
            "x": {"field": "energy", "type": "quantitative"},
            "y": {"field": "intensity", "type": "quantitative"}
          }
        },
        {
          "data": {"values": [
            {"energy": 529.28, "base": 273, "tip": 338},
            {"energy": 530.44, "base": 218, "tip": 282}
          ]},
          "layer": [
            {
              "mark": {"type": "rule", "strokeWidth": 5, "color": "#000000", "y2Offset": 12},
              "encoding": {
                "x": {"field": "energy", "type": "quantitative"},
                "y": {"field": "base", "type": "quantitative"},
                "y2": {"field": "tip"}
              }
            },
            {
              "mark": {"type": "point", "shape": "M0,-1L0.32,1L-0.32,1Z", "size": 420, "filled": true, "color": "#000000", "opacity": 1, "yOffset": 10},
              "encoding": {
                "x": {"field": "energy", "type": "quantitative"},
                "y": {"field": "tip", "type": "quantitative"}
              }
            }
          ]
        },
        {
          "data": {"values": [{"left": 540.92, "right": 549.54, "top": 267, "bottom": 208}]},
          "mark": {"type": "rect", "fill": "#ffffff", "stroke": "#000000", "strokeWidth": 2.5},
          "encoding": {
            "x": {"field": "left", "type": "quantitative"},
            "x2": {"field": "right"},
            "y": {"field": "top", "type": "quantitative"},
            "y2": {"field": "bottom"}
          }
        },
        {
          "data": {"values": [
            {"label": "Fe 3", "energy": 529.92, "intensity": 423},
            {"label": "Sr 4", "energy": 536.86, "intensity": 423}
          ]},
          "mark": {"type": "text", "align": "right", "baseline": "alphabetic", "font": "Liberation Sans", "fontSize": 25, "color": "#000000"},
          "encoding": {
            "x": {"field": "energy", "type": "quantitative"},
            "y": {"field": "intensity", "type": "quantitative"},
            "text": {"field": "label"}
          }
        },
        {
          "data": {"values": [
            {"label": "d", "energy": 529.92, "intensity": 423},
            {"label": "d", "energy": 536.86, "intensity": 423},
            {"label": "K", "energy": 542.3, "intensity": 125},
            {"label": "T", "energy": 540.74, "intensity": 93}
          ]},
          "mark": {"type": "text", "align": "left", "baseline": "alphabetic", "font": "Liberation Sans", "fontSize": 25, "fontWeight": "bold", "fontStyle": "italic", "color": "#000000"},
          "encoding": {
            "x": {"field": "energy", "type": "quantitative"},
            "y": {"field": "intensity", "type": "quantitative"},
            "text": {"field": "label"}
          }
        },
        {
          "data": {"values": [
            {"label": "O", "energy": 540.63, "intensity": 125},
            {"label": "-edge", "energy": 543.5, "intensity": 125},
            {"label": "= 300 K", "energy": 542.0, "intensity": 93}
          ]},
          "mark": {"type": "text", "align": "left", "baseline": "alphabetic", "font": "Liberation Sans", "fontSize": 25, "color": "#000000"},
          "encoding": {
            "x": {"field": "energy", "type": "quantitative"},
            "y": {"field": "intensity", "type": "quantitative"},
            "text": {"field": "label"}
          }
        },
        {
          "data": {"values": [{"label": "SrFeO", "energy": 541.32, "intensity": 230}]},
          "mark": {"type": "text", "align": "left", "baseline": "alphabetic", "font": "Liberation Sans", "fontSize": 33, "color": "#000000"},
          "encoding": {
            "x": {"field": "energy", "type": "quantitative"},
            "y": {"field": "intensity", "type": "quantitative"},
            "text": {"field": "label"}
          }
        },
        {
          "data": {"values": [{"label": "2.5", "energy": 546.95, "intensity": 220}]},
          "mark": {"type": "text", "align": "left", "baseline": "alphabetic", "font": "Liberation Sans", "fontSize": 21, "color": "#000000"},
          "encoding": {
            "x": {"field": "energy", "type": "quantitative"},
            "y": {"field": "intensity", "type": "quantitative"},
            "text": {"field": "label"}
          }
        }
      ]
    }
  ]
}
